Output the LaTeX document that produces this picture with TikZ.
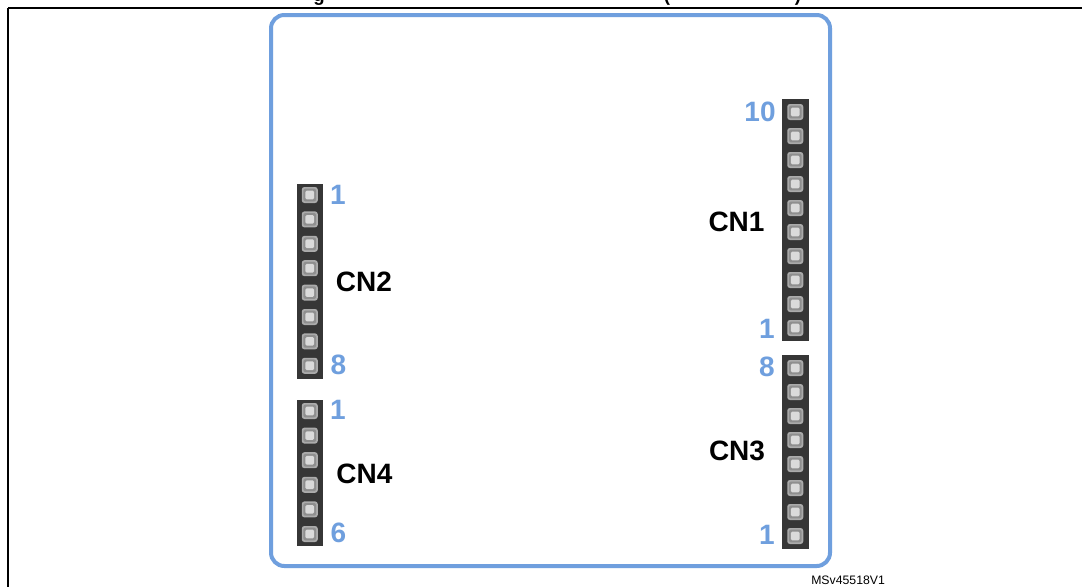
\documentclass[tikz,border=0pt]{standalone}
\usepackage{fontspec}
\setmainfont{Liberation Sans}
\definecolor{stblue}{HTML}{6F9FDE}
\definecolor{hdrbody}{HTML}{363636}
\definecolor{pinouter}{HTML}{ABABAB}
\definecolor{pinmid}{HTML}{8E8E8E}
\definecolor{pininner}{HTML}{DADADA}
\tikzset{
  x=0.75pt,y=-0.75pt,
  frametop/.style={draw=black,line width=1.5pt},
  frameleft/.style={draw=black,line width=1.1pt},
  board/.style={draw=stblue,line width=3pt,rounded corners=10pt},
  pinbox/.style={fill=pinouter,draw=none,rounded corners=2pt,inner sep=0pt,minimum size=12pt},
  pinring/.style={fill=pinmid,draw=none,rounded corners=1.5pt,inner sep=0pt,minimum size=9.5pt},
  pincore/.style={fill=pininner,draw=none,rounded corners=1pt,inner sep=0pt,minimum size=6.5pt},
  numlabel/.style={text=stblue,font=\bfseries\fontsize{21}{21}\selectfont,inner sep=0pt},
  cnlabel/.style={text=black,font=\bfseries\fontsize{21}{21}\selectfont,inner sep=0pt},
  titlefrag/.style={text=black,font=\bfseries\fontsize{14}{14}\selectfont,inner sep=0pt,anchor=base},
  refmark/.style={text=black,font=\fontsize{9.2}{9.2}\selectfont,inner sep=0pt}
}
% #1 name, #2 left x, #3 top y, #4 bottom y, #5 first pin y, #6 pitch, #7 pin count
\newcommand{\hdrstrip}[7]{%
  \fill[hdrbody] (#2,#3) rectangle (#2+26.5,#4);
  \foreach \k in {1,...,#7}{%
    \pgfmathsetmacro{\py}{#5+(\k-1)*#6}
    \node[pinbox] (#1-\k) at (#2+13.25,\py) {};
    \node[pinring] at (#1-\k) {};
    \node[pincore] at (#1-\k) {};
  }%
}
\begin{document}
\begin{tikzpicture}
\useasboundingbox (0,0) rectangle (1082,587);
\clip (0,0) rectangle (1082,587);
\fill[white] (0,0) rectangle (1082,587);
% clipped title fragments
\node[titlefrag] (tg) at (319,1) {g};
\node[titlefrag] (tl) at (667,1) {(};
\node[titlefrag] (tr) at (798,1) {)};
% page frame
\draw[frametop] (1082,8) -- (7.5,8);
\draw[frameleft] (8,8) -- (8,587);
% board
\draw[board] (271,15) rectangle (830,566);
% headers
\hdrstrip{cna}{782}{99}{341}{112}{24}{10}
\hdrstrip{cnb}{296.5}{184}{378.5}{195}{24.4}{8}
\hdrstrip{cnc}{782}{355}{549}{368}{24}{8}
\hdrstrip{cnd}{296.5}{400}{546}{411}{24.6}{6}
% connector names
\node[cnlabel] (CN1) at (736.5,222) {CN1};
\node[cnlabel] (CN2) at (364,282) {CN2};
\node[cnlabel] (CN3) at (737,451) {CN3};
\node[cnlabel] (CN4) at (364.5,474) {CN4};
% pin numbers
\node[numlabel] (n10) at (760,112) {10};
\node[numlabel] (n1a) at (767,329) {1};
\node[numlabel] (n8c) at (767,367) {8};
\node[numlabel] (n1c) at (767,535) {1};
\node[numlabel] (n1b) at (338,195) {1};
\node[numlabel] (n8b) at (338.5,365) {8};
\node[numlabel] (n1d) at (338,410) {1};
\node[numlabel] (n6d) at (338.5,533) {6};
% reference mark
\node[refmark,anchor=base west] (ref) at (811,584) {MSv45518V1};
\end{tikzpicture}
\end{document}
